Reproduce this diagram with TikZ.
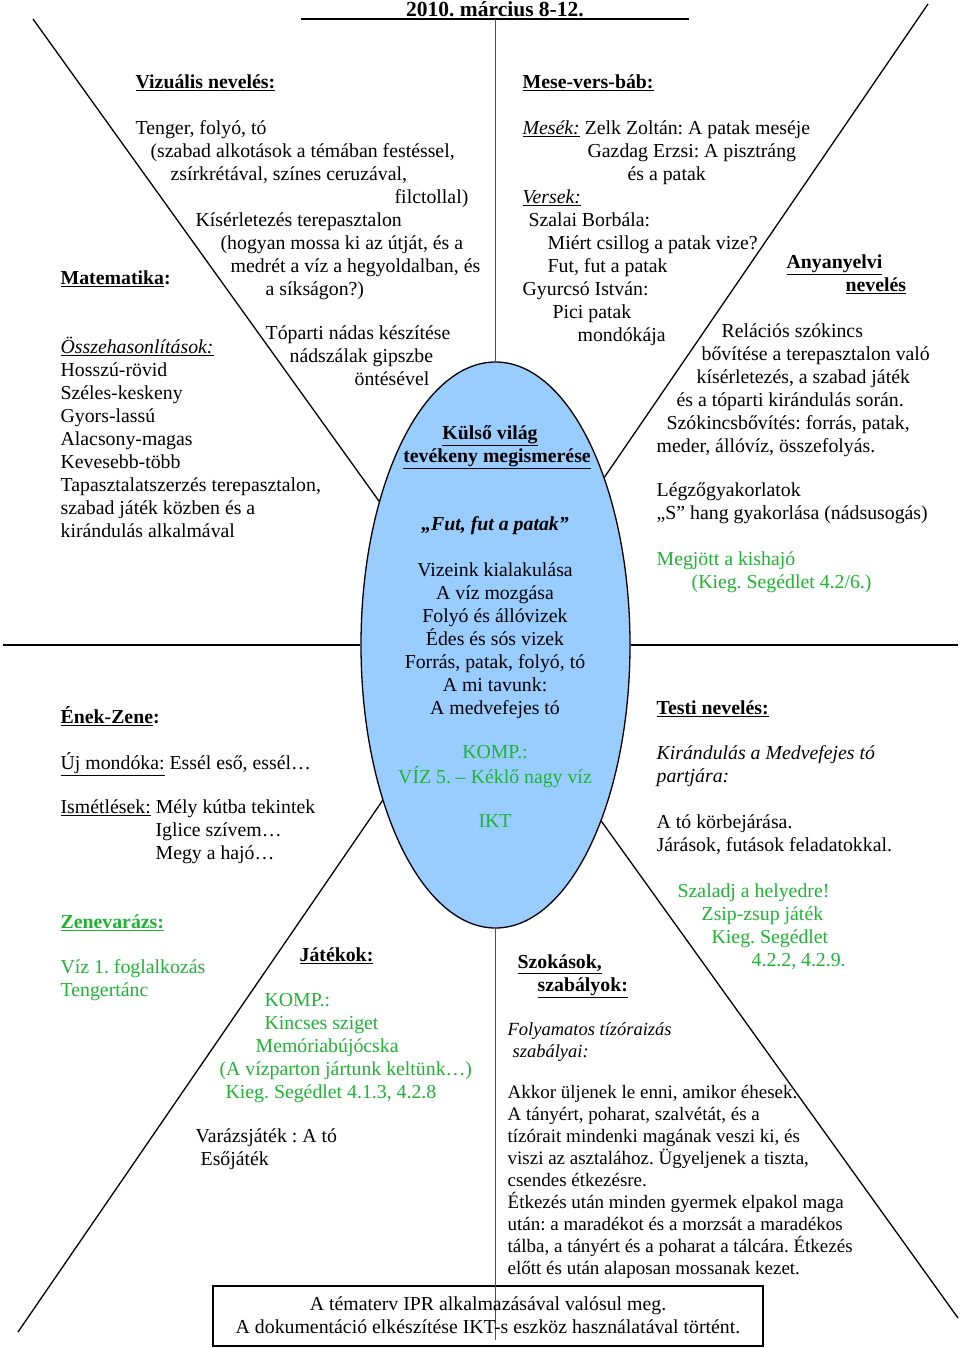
\documentclass[tikz,border=0pt]{standalone}
\usepackage{fontspec}
\setmainfont{Liberation Serif}
\usetikzlibrary{shapes.geometric}
\definecolor{vilag}{HTML}{99CCFF}
\definecolor{zold}{HTML}{1FB332}
\definecolor{szurke}{HTML}{505050}
\newcommand{\ul}[1]{\underline{#1}}
\frenchspacing
\begin{document}
\begin{tikzpicture}[x=1pt,y=-1pt,line width=1.3pt,
    every node/.style={inner sep=0pt,font=\fontsize{19.8}{23}\selectfont},
    block/.style={anchor=north west,align=left},
    mid/.style={anchor=north,align=center},
    cim/.style={block,font=\fontsize{19.8}{23}\selectfont\bfseries},
    zolt/.style={block,text=zold},
    small/.style={block,font=\fontsize{19}{22}\selectfont}]
  \useasboundingbox (0,0) rectangle (960,1348);
  \node[draw,ellipse,fill=vilag,minimum width=269,minimum height=566] (kulso) at (495.5,645) {};
  \coordinate (nw) at (33,19);
  \coordinate (ne) at (928,4);
  \coordinate (sw) at (18,1332);
  \coordinate (se) at (958,1318);
  \coordinate (w) at (3,645);
  \coordinate (e) at (958,645);
  \coordinate (n) at (495.5,19);
  \coordinate (s) at (495.5,1340);
  \coordinate (datel) at (301,19);
  \coordinate (dater) at (689,19);
  \draw (nw) -- (kulso.129.4);
  \draw (ne) -- (kulso.57.4);
  \draw (sw) -- (kulso.234);
  \draw (se) -- (kulso.301.6);
  \draw (w) -- (kulso.west);
  \draw (e) -- (kulso.east);
  \draw (datel) -- (dater);
  \node[draw,minimum width=550,minimum height=60] (ipr) at (488,1316) {};
  \draw[szurke] (n) -- (kulso.north);
  \draw[szurke] (kulso.south) -- (s);
  \node[mid,font=\fontsize{21.5}{23}\selectfont\bfseries] (datum) at (495,0) {\strut 2010. március 8-12.};
  % bal felso
  \node[cim] (vizualis) at (135,72) {\strut\ul{Vizuális nevelés:}};
  \node[block] (tenger) at (135,118) {\strut Tenger, folyó, tó\\
    \hspace*{15pt}(szabad alkotások a témában festéssel,\\
    \hspace*{35pt}zsírkrétával, színes ceruzával,\\
    \hspace*{259pt}filctollal)\\
    \hspace*{60pt}Kísérletezés terepasztalon\\
    \hspace*{85pt}(hogyan mossa ki az útját, és a\\
    \hspace*{95pt}medrét a víz a hegyoldalban, és\\
    \hspace*{130pt}a síkságon?)};
  \node[block] (toparti) at (265,323) {\strut Tóparti nádas készítése\\
    \hspace*{24pt}nádszálak gipszbe\\
    \hspace*{89pt}öntésével};
  \node[cim] (matek) at (60,268) {\strut\ul{Matematika}:};
  \node[block] (hasonlit) at (60,336) {\strut\ul{\textit{Összehasonlítások:}}\\
    Hosszú-rövid\\
    Széles-keskeny\\
    Gyors-lassú\\
    Alacsony-magas\\
    Kevesebb-több\\
    Tapasztalatszerzés terepasztalon,\\
    szabad játék közben és a\\
    kirándulás alkalmával};
  % bal also
  \node[cim] (enek) at (60,706) {\strut\ul{Ének-Zene}:};
  \node[block] (mondoka) at (60,752) {\strut\ul{Új mondóka:} Essél eső, essél…};
  \node[block] (ismet) at (60,797) {\strut\ul{Ismétlések:} Mély kútba tekintek\\
    \hspace*{95pt}Iglice szívem…\\
    \hspace*{95pt}Megy a hajó…};
  \node[cim,text=zold] (zene) at (60,912) {\strut\ul{Zenevarázs:}};
  \node[zolt] (viz) at (60,957) {\strut Víz 1. foglalkozás\\Tengertánc};
  \node[cim] (jatek) at (299,945) {\strut\ul{Játékok:}};
  \node[zolt] (komp) at (219,990) {\strut\hspace*{45pt}KOMP.:\\
    \hspace*{45pt}Kincses sziget\\
    \hspace*{36pt}Memóriabújócska\\
    (A vízparton jártunk keltünk…)\\
    \hspace*{6pt}Kieg. Segédlet 4.1.3, 4.2.8};
  \node[block] (varazs) at (195,1126) {\strut Varázsjáték : A tó\\\hspace*{5pt}Esőjáték};
  % ellipszis
  \node[mid,font=\fontsize{19.8}{23}\selectfont\bfseries] (kulsocim) at (497,423) {\strut\hspace*{-14pt}\ul{Külső világ}\\\ul{tevékeny megismerése}};
  \node[mid,font=\fontsize{19.8}{23}\selectfont\bfseries\itshape] (fut) at (495,514) {\strut„Fut, fut a patak”};
  \node[mid] (vizeink) at (495,560) {\strut Vizeink kialakulása\\A víz mozgása\\Folyó és állóvizek\\Édes és sós vizek\\Forrás, patak, folyó, tó\\A mi tavunk:\\A medvefejes tó};
  \node[mid,text=zold] (kompviz) at (495,742) {\strut KOMP.:\\VÍZ 5. – Kéklő nagy víz};
  \node[mid,text=zold] (ikt) at (495,811) {\strut IKT};
  % jobb felso
  \node[cim] (mese) at (522,72) {\strut\ul{Mese-vers-báb:}};
  \node[block] (mesek) at (522,118) {\strut\ul{\textit{Mesék:}} Zelk Zoltán: A patak meséje\\
    \hspace*{65pt}Gazdag Erzsi: A pisztráng\\
    \hspace*{105pt}és a patak\\
    \ul{\textit{Versek:}}\\
    \hspace*{6pt}Szalai Borbála:\\
    \hspace*{25pt}Miért csillog a patak vize?\\
    \hspace*{25pt}Fut, fut a patak\\
    Gyurcsó István:\\
    \hspace*{30pt}Pici patak\\
    \hspace*{55pt}mondókája};
  \node[cim] (anyanyelv) at (786,252) {\strut\ul{Anyanyelvi}\\\hspace*{59pt}\ul{nevelés}};
  \node[block] (relacio) at (656,321) {\strut\hspace*{65pt}Relációs szókincs\\
    \hspace*{45pt}bővítése a terepasztalon való\\
    \hspace*{40pt}kísérletezés, a szabad játék\\
    \hspace*{20pt}és a tóparti kirándulás során.\\
    \hspace*{10pt}Szókincsbővítés: forrás, patak,\\
    meder, állóvíz, összefolyás.};
  \node[block] (legzo) at (656,480) {\strut Légzőgyakorlatok\\„S” hang gyakorlása (nádsusogás)};
  \node[zolt] (kishajo) at (656,549) {\strut Megjött a kishajó\\\hspace*{35pt}(Kieg. Segédlet 4.2/6.)};
  % jobb also
  \node[cim] (testi) at (656,698) {\strut\ul{Testi nevelés:}};
  \node[block,font=\fontsize{19.8}{23}\selectfont\itshape] (kirandulas) at (656,743) {\strut Kirándulás a Medvefejes tó\\partjára:};
  \node[block] (jarasok) at (656,812) {\strut A tó körbejárása.\\Járások, futások feladatokkal.};
  \node[zolt] (szaladj) at (677,881) {\strut Szaladj a helyedre!\\
    \hspace*{24pt}Zsip-zsup játék\\
    \hspace*{34pt}Kieg. Segédlet\\
    \hspace*{74pt}4.2.2, 4.2.9.};
  \node[cim] (szokas) at (517,952) {\strut\ul{Szokások,}\\\hspace*{20pt}\ul{szabályok:}};
  \node[small,font=\fontsize{18.5}{22}\selectfont\itshape] (tizorai) at (507,1019) {\strut Folyamatos tízóraizás\\\hspace*{5pt}szabályai:};
  \node[small] (akkor) at (507,1082) {\strut Akkor üljenek le enni, amikor éhesek.\\
    A tányért, poharat, szalvétát, és a\\
    tízórait mindenki magának veszi ki, és\\
    viszi az asztalához. Ügyeljenek a tiszta,\\
    csendes étkezésre.\\
    Étkezés után minden gyermek elpakol maga\\
    után: a maradékot és a morzsát a maradékos\\
    tálba, a tányért és a poharat a tálcára. Étkezés\\
    előtt és után alaposan mossanak kezet.};
  \node[mid] (iprszoveg) at (488,1294) {\strut A tématerv IPR alkalmazásával valósul meg.\\A dokumentáció elkészítése IKT-s eszköz használatával történt.};
\end{tikzpicture}
\end{document}
